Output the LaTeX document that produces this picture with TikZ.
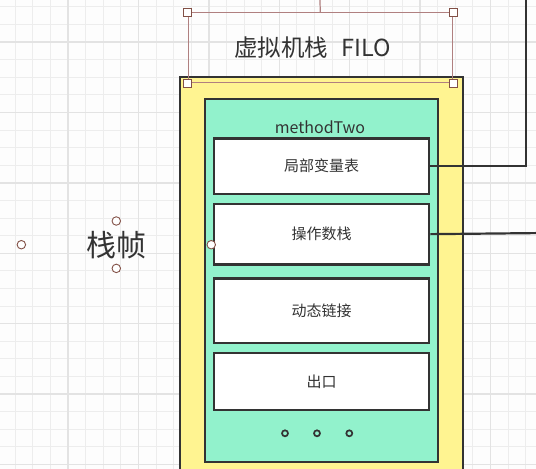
\documentclass[tikz,border=0pt]{standalone}
\usepackage{fontspec}
\setmainfont{Noto Sans CJK SC}
\definecolor{stackyellow}{RGB}{255,244,145}
\definecolor{framegreen}{RGB}{146,242,204}
\definecolor{inkdark}{RGB}{51,51,51}
\definecolor{selbrown}{RGB}{176,128,128}
\definecolor{handlebrown}{RGB}{130,80,70}
\definecolor{paper}{RGB}{253,253,253}
\begin{document}
\begin{tikzpicture}[x=1pt,y=-1pt,
  minorline/.style={draw=black!7, line width=1pt},
  majorline/.style={draw=black!11, line width=1.4pt},
  panel/.style={rectangle, draw=inkdark, line width=2.3pt, anchor=north west, inner sep=0pt},
  slot/.style={panel, fill=white, minimum width=215pt, text=inkdark,
    font=\fontsize{15}{18}\selectfont},
  wire/.style={draw=inkdark, line width=2.2pt},
  ellipsisdot/.style={circle, draw=inkdark, line width=1.7pt, fill=framegreen,
    minimum size=6pt, inner sep=0pt},
  selbox/.style={rectangle, draw=selbrown, line width=0.8pt, anchor=north west, inner sep=0pt},
  handle/.style={rectangle, draw=handlebrown, fill=white, line width=0.9pt,
    minimum size=8pt, inner sep=0pt},
  knob/.style={circle, draw=handlebrown, fill=white, line width=0.9pt,
    minimum size=8.5pt, inner sep=0pt},
]
\useasboundingbox (0,0) rectangle (536,469);
\clip (0,0) rectangle (536,469);
\fill[paper] (0,0) rectangle (536,469);

% background grid
\foreach \i in {0,...,31} {
  \draw[minorline] ({-2.4+17.6*\i},0) -- ++(0,469);
  \draw[minorline] (0,{-10.8+17.6*\i}) -- ++(536,0);
}
\foreach \i in {0,...,8} {
  \draw[majorline] ({-2.4+70.4*\i},0) -- ++(0,469);
  \draw[majorline] (0,{-28.4+70.4*\i}) -- ++(536,0);
}

% stack and frame
\node[panel, fill=stackyellow, minimum width=283pt, minimum height=420pt] (stack) at (179,75.5) {};
\node[panel, fill=framegreen, minimum width=233pt, minimum height=363.5pt] (methodframe) at (204,97.5) {};
\node[text=inkdark, font=\fontsize{16}{19}\selectfont] (methodname) at (320,127) {methodTwo};

\node[slot, minimum height=55.5pt] (locals) at (213,137.3) {局部变量表};
\node[slot, minimum height=60.6pt] (operands) at (213,202.7) {操作数栈};
\node[slot, minimum height=64.4pt] (dynlink) at (213,277.3) {动态链接};
\node[slot, minimum height=57.3pt] (exitslot) at (213,351.7) {出口};

\node[ellipsisdot] (dotA) at (285,433.3) {};
\node[ellipsisdot] (dotB) at (317,433.3) {};
\node[ellipsisdot] (dotC) at (349.3,433.3) {};

% outgoing connectors
\coordinate (upEnd) at (526,-5);
\coordinate (rightEnd) at (545,233);
\draw[wire] (locals.east) -| (upEnd);
\draw[wire] (operands.east) -- (rightEnd);

% title with its selection frame
\node[text=inkdark, font=\fontsize{23.5}{28}\selectfont] (title) at (312.5,48) {虚拟机栈\hspace{13pt}FILO};
\node[selbox, minimum width=264.5pt, minimum height=70.3pt] (titlesel) at (187.7,12) {};
\coordinate (titleUp) at (319.7,-5);
\draw[selbrown, line width=1.2pt] (titlesel.north) -- (titleUp);
\node[handle] (hNW) at (titlesel.north west) {};
\node[handle] (hNE) at (titlesel.north east) {};
\node[handle] (hSW) at (titlesel.south west) {};
\node[handle] (hSE) at (titlesel.south east) {};

% side label with its handles
\node[text=inkdark, font=\fontsize{30}{34}\selectfont] (frametag) at (116.5,245) {栈帧};
\node[minimum width=189.5pt, minimum height=47pt, inner sep=0pt] (tagsel) at (116.3,244.7) {};
\node[knob] (kN) at (tagsel.north) {};
\node[knob] (kS) at (tagsel.south) {};
\node[knob] (kW) at (tagsel.west) {};
\node[knob] (kE) at (tagsel.east) {};
\end{tikzpicture}
\end{document}
